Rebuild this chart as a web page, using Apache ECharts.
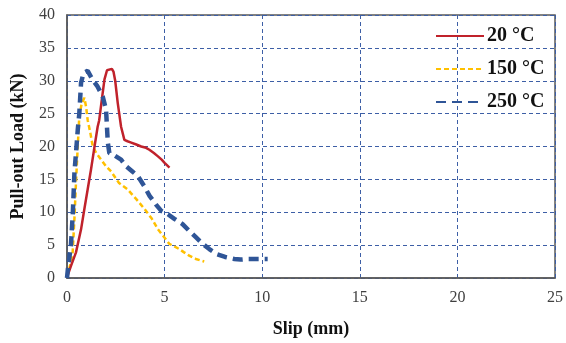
<!DOCTYPE html>
<html><head><meta charset="utf-8">
<script src="https://cdn.jsdelivr.net/npm/echarts@6/dist/echarts.min.js"></script>
<style>html,body{margin:0;padding:0;background:#fff}#c{width:566px;height:343px}</style>
</head><body><div id="c"></div>
<script>
var seriesNames = ['20 °C', '150 °C', '250 °C'];
var xTicks = [0, 5, 10, 15, 20, 25];
var yTicks = [0, 5, 10, 15, 20, 25, 30, 35, 40];

var slip20 = [0, 0.2, 0.46, 0.72, 0.89, 1.06, 1.23, 1.4, 1.57, 1.65, 1.8, 1.92, 2.05, 2.12, 2.3, 2.38, 2.47, 2.6, 2.77, 2.94, 3.1, 3.29, 3.55, 3.8, 4.05, 4.22, 4.45, 4.66, 4.85, 5.0, 5.25];
var load20 = [0.1, 1.8, 3.9, 7.4, 10.5, 13.5, 16.5, 19.8, 23.0, 24.0, 27.5, 30.2, 31.6, 31.8, 31.8, 31.4, 30.0, 26.6, 23.0, 21.0, 20.8, 20.6, 20.3, 20.0, 19.8, 19.5, 19.0, 18.5, 18.0, 17.5, 16.8];

var slip150 = [0, 0.15, 0.29, 0.38, 0.46, 0.55, 0.63, 0.75, 0.89, 0.98, 1.06, 1.2, 1.32, 1.5, 1.75, 2.0, 2.26, 2.65, 3.1, 3.55, 3.97, 4.35, 4.66, 4.95, 5.24, 5.5, 5.75, 6.0, 6.26, 6.6, 7.03];
var load150 = [0.2, 1.8, 3.9, 9.0, 14.5, 20.0, 24.6, 26.5, 27.4, 26.0, 24.0, 22.0, 20.0, 19.0, 18.0, 17.0, 16.2, 14.5, 13.5, 12.0, 10.5, 9.0, 7.4, 6.3, 5.2, 4.8, 4.4, 3.9, 3.4, 2.9, 2.5];

var slip250 = [0, 0.05, 0.2, 0.3, 0.38, 0.46, 0.55, 0.63, 0.72, 0.85, 1.06, 1.3, 1.57, 1.83, 2.0, 2.09, 2.17, 2.45, 2.77, 3.03, 3.35, 3.63, 3.95, 4.23, 4.55, 4.83, 5.17, 5.5, 5.92, 6.25, 6.6, 6.95, 7.29, 7.7, 8.1, 8.57, 8.9, 9.3, 9.68, 10.28];
var load250 = [0, 1.5, 4.9, 10.0, 16.0, 19.0, 22.5, 25.0, 29.7, 31.2, 31.5, 30.2, 29.1, 27.6, 25.6, 20.6, 19.0, 18.6, 18.0, 17.0, 16.2, 15.5, 14.0, 12.5, 11.2, 10.2, 9.7, 9.0, 8.2, 7.2, 6.2, 5.2, 4.4, 3.6, 3.2, 2.9, 2.8, 2.9, 2.9, 2.9];

function zip(a, b) { return a.map(function (v, i) { return [v, b[i]]; }); }

var font = '"Liberation Serif", "Times New Roman", serif';
var gridLine = { show: true, lineStyle: { color: '#3D5FA6', type: [4, 3], width: 1 } };

var chart = echarts.init(document.getElementById('c'), null, { renderer: 'canvas' });
chart.setOption({
  animation: false,
  backgroundColor: '#fff',
  grid: { left: 67, top: 15, right: 11, bottom: 64, show: true, borderColor: '#595959', borderWidth: 1.5, backgroundColor: 'transparent' },
  legend: {
    orient: 'vertical', left: 435, top: 26, padding: 0, itemWidth: 48, itemHeight: 14, itemGap: 13,
    itemStyle: { opacity: 0 },
    textStyle: { fontFamily: font, fontWeight: 'bold', fontSize: 20, color: '#111', padding: [0, 0, 0, -2] },
    data: seriesNames
  },
  xAxis: {
    type: 'value', min: 0, max: 25, interval: 5,
    axisLine: { show: true, lineStyle: { color: '#595959', width: 1.5 } },
    axisTick: { show: false },
    splitLine: gridLine,
    axisLabel: { fontFamily: font, fontSize: 16, color: '#404040', margin: 12, formatter: function (v) { return xTicks.indexOf(v) >= 0 ? String(v) : ''; } },
    name: 'Slip (mm)', nameLocation: 'middle', nameGap: 42,
    nameTextStyle: { fontFamily: font, fontWeight: 'bold', fontSize: 18, color: '#111' }
  },
  yAxis: {
    type: 'value', min: 0, max: 40, interval: 5,
    axisLine: { show: true, lineStyle: { color: '#595959', width: 1.5 } },
    axisTick: { show: false },
    splitLine: gridLine,
    axisLabel: { fontFamily: font, fontSize: 16, color: '#404040', margin: 12, formatter: function (v) { return yTicks.indexOf(v) >= 0 ? String(v) : ''; } },
    name: 'Pull-out Load (kN)', nameLocation: 'middle', nameGap: 40, nameRotate: 90,
    nameTextStyle: { fontFamily: font, fontWeight: 'bold', fontSize: 18, color: '#111' }
  },
  series: [
    { name: seriesNames[0], type: 'line', data: zip(slip20, load20), showSymbol: false, symbol: 'none', z: 3,
      lineStyle: { color: '#C0222B', width: 2.5 }, itemStyle: { color: '#C0222B' } },
    { name: seriesNames[1], type: 'line', data: zip(slip150, load150), showSymbol: false, symbol: 'none', z: 2,
      lineStyle: { color: '#FFC000', width: 2.5, type: [5, 3] }, itemStyle: { color: '#FFC000' } },
    { name: seriesNames[2], type: 'line', data: zip(slip250, load250), showSymbol: false, symbol: 'none', z: 4,
      lineStyle: { color: '#2F5597', width: 4.5, type: [10, 6] }, itemStyle: { color: '#2F5597' } }
  ]
});
</script></body></html>
